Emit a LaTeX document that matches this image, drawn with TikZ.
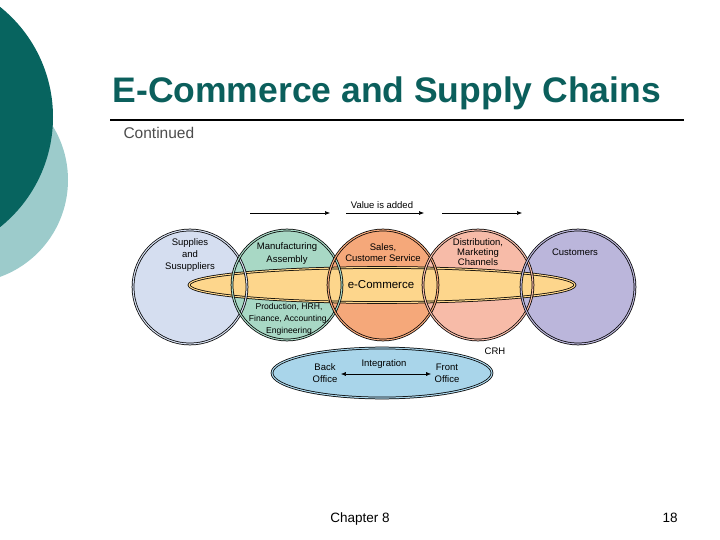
\documentclass[tikz,border=0pt]{standalone}
\usepackage{fontspec}
\setmainfont{Liberation Sans}
\usetikzlibrary{positioning,arrows.meta,shapes.geometric}

\definecolor{deepteal}{HTML}{07645F}
\definecolor{paleteal}{HTML}{9CCBCB}
\definecolor{titlecol}{HTML}{0B5F5C}
\definecolor{supfill}{HTML}{D5DEF0}
\definecolor{manfill}{HTML}{A8D8C5}
\definecolor{salfill}{HTML}{F5A87A}
\definecolor{disfill}{HTML}{F7BBA8}
\definecolor{cusfill}{HTML}{BBB6DB}
\definecolor{ecofill}{HTML}{FDD68C}
\definecolor{intfill}{HTML}{A9D5EA}

\tikzset{
	ring/.style={draw=black, line width=0.75pt, double distance=1.1pt},
	disc/.style={circle, inner sep=0pt, minimum size=#1},
	lbl/.style={align=center, font=\fontsize{9.5}{12}\selectfont},
	flow/.style={->, line width=0.6pt},
}

\begin{document}
\begin{tikzpicture}[x=1pt, y=-1pt, >={Latex[length=5pt,width=4pt]}]
	\useasboundingbox (0,0) rectangle (720,540);
	\begin{scope}
		\clip (0,0) rectangle (720,540);
		\fill[paleteal] (-35,180) circle (103);
		\fill[deepteal] (-88,117) circle (141);
	\end{scope}

	\node[anchor=base west, text=titlecol, font=\bfseries\fontsize{35.5}{40}\selectfont] (title) at (109,103) {E-Commerce and Supply Chains};
	\draw[line width=2pt] (110,120) -- (684,120);
	\node[anchor=base west, text=black!70, font=\fontsize{15.5}{18}\selectfont] (cont) at (120,139) {Continued};

	\node[disc=114, fill=supfill] (sup) at (190,287) {};
	\node[disc=110, fill=manfill] (man) at (287,285) {};
	\node[disc=110, fill=salfill] (sal) at (383,285) {};
	\node[disc=110, fill=disfill] (dis) at (478,285) {};
	\node[disc=114, fill=cusfill] (cus) at (578,287) {};

	\node[ellipse, ring, double=ecofill, fill=ecofill, minimum width=386, minimum height=35, inner sep=0pt] (eco) at (382,285) {};
	\foreach \n/\r/\c in {sup/57/supfill, man/55/manfill, sal/55/salfill, dis/55/disfill, cus/57/cusfill}
		\draw[ring, double=\c] (\n) circle (\r);

	\node[lbl] (suptxt) at (190,255) {Supplies\\and\\Susuppliers};
	\node[lbl, font=\fontsize{9.5}{13}\selectfont] (mantxt) at (287,253.5) {Manufacturing\\Assembly};
	\node[lbl, font=\fontsize{9.5}{11}\selectfont] (saltxt) at (383,252.5) {Sales,\\Customer Service};
	\node[lbl, font=\fontsize{9.5}{9.8}\selectfont] (distxt) at (478,252) {Distribution,\\Marketing\\Channels};
	\node[lbl] (custxt) at (575,252) {Customers};
	\node[lbl, font=\fontsize{8.6}{12}\selectfont] (prodtxt) at (289,319) {Production, HRH,\\Finance, Accounting,\\Engineering};
	\node[font=\fontsize{11.5}{13}\selectfont] (ecotxt) at (381,285) {e-Commerce};

	\node[lbl] (value) at (382,205) {Value is added};
	\coordinate (a1) at (250,213);
	\coordinate (b1) at (330,213);
	\coordinate (a2) at (346,213);
	\coordinate (b2) at (424,213);
	\coordinate (a3) at (442,213);
	\coordinate (b3) at (522,213);
	\draw[flow] (a1) -- (b1);
	\draw[flow] (a2) -- (b2);
	\draw[flow] (a3) -- (b3);

	\node[lbl] (crh) at (495,351) {CRH};

	\node[ellipse, ring, double=intfill, fill=intfill, minimum width=220, minimum height=50, inner sep=0pt] (integ) at (382,373) {};
	\node[lbl] (back) at (325,373) {Back\\Office};
	\node[lbl] (front) at (447,373) {Front\\Office};
	\node[lbl] (inttxt) at (384,364) {Integration};
	\draw[<->, line width=0.6pt] ([yshift=-1pt]back.east) -- ([yshift=-1pt]front.west);

	\node[anchor=base, font=\fontsize{13.5}{16}\selectfont] (chap) at (360,522) {Chapter 8};
	\node[anchor=base, font=\fontsize{13.5}{16}\selectfont] (page) at (670,522) {18};
\end{tikzpicture}
\end{document}
